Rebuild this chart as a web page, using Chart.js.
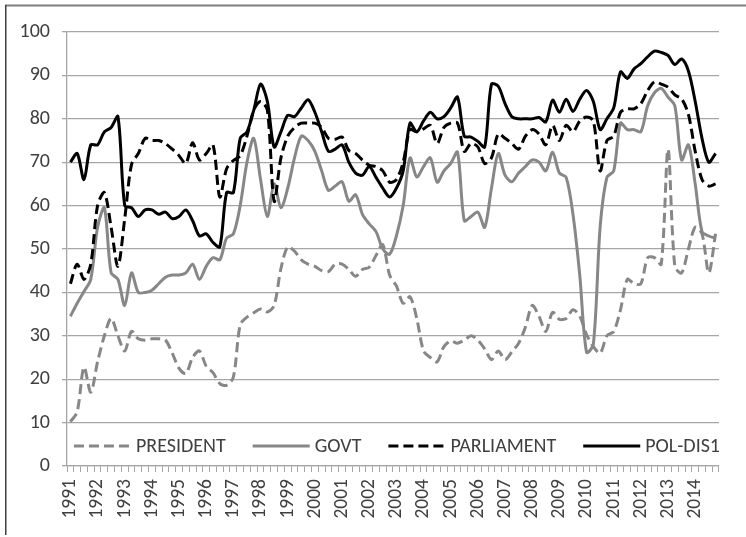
<!DOCTYPE html>
<html><head><meta charset="utf-8">
<script src="https://cdn.jsdelivr.net/npm/chart.js@4.4.1/dist/chart.umd.min.js"></script>
<style>html,body{margin:0;padding:0;background:#fff;}#wrap{width:746px;height:537px;position:relative;}</style>
</head><body><div id="wrap"><canvas id="c" width="746" height="537"></canvas></div>
<script>
const years = ['1991','1992','1993','1994','1995','1996','1997','1998','1999','2000','2001','2002','2003','2004','2005','2006','2007','2008','2009','2010','2011','2012','2013','2014'];
const quarterNames = ['Q1','Q2','Q3','Q4'];
const quarters = [];
years.forEach(y => quarterNames.forEach(q => quarters.push(y + ' ' + q)));

const president = [
  10.2, 12.5, 22.8, 17, 24, 30, 34, 30,
  26.5, 31, 29.3, 29, 29.3, 29.3, 29, 26,
  22.5, 21.3, 25, 26.5, 23, 21.5, 19, 18.6,
  20.5, 32.5, 34.3, 35.3, 36.2, 35.5, 37, 45.5,
  50.5, 49.5, 47.5, 46.5, 46, 45, 44.8, 46.5,
  46.5, 45.3, 43.7, 45.3, 45.8, 48.5, 51, 44,
  41.5, 37.5, 39, 34, 26.5, 25, 24, 27.5,
  28.8, 28.3, 29, 30, 29, 27, 24.5, 26.5,
  24.5, 26.3, 28.3, 32, 37, 34.5, 31, 35.4,
  33.8, 34, 36, 34.5, 30.3, 27.5, 26, 30,
  31, 36, 43, 42, 42, 48, 48, 46.5,
  73, 46, 44.5, 50, 55, 53.5, 44.5, 53.5
];
const govt = [
  34.5, 37.5, 40.2, 43, 55, 59.5, 44.5, 43,
  37, 44.5, 40, 40, 40.5, 42, 43.5, 44,
  44, 44.5, 46.5, 43, 46, 48, 47.5, 52.5,
  53.5, 60, 70, 75.5, 66, 57.5, 65, 59.5,
  64, 71, 76, 75, 72.5, 68, 63.5, 64.5,
  65.5, 61, 62.5, 58, 55.8, 54, 50, 48.8,
  53, 60, 71, 66.6, 69, 71, 65.4, 68,
  69.7, 72.3, 56.5, 57.5, 58.5, 55, 64, 72,
  67, 65.5, 67.5, 69, 70.5, 70, 68, 72.3,
  67.5, 66.5, 58, 44, 26.2, 28, 55, 66.5,
  68, 79, 77.5, 77.5, 77, 83, 86, 87,
  85, 83, 70.5, 74, 65, 54, 53, 52.5
];
const parliament = [
  42, 46.5, 43, 46.5, 60, 63, 55, 46,
  57, 69.5, 72, 75.5, 75, 75, 74.3, 73,
  71.5, 69.7, 74.5, 70.5, 72, 74, 62, 68.5,
  70.4, 71.5, 76, 82, 84, 82, 61, 71,
  76, 78, 79, 79, 79, 78, 75.5, 75.3,
  75.8, 72.7, 72, 70.5, 69.3, 69, 68, 65.4,
  66, 70, 77.5, 77, 77.7, 78.5, 74.3, 78,
  79, 79, 72.5, 74.3, 73.5, 69.7, 71, 76.5,
  75.5, 74.3, 73, 76, 77.5, 76.5, 74, 78.5,
  75, 78.5, 77, 79.5, 80.4, 79.5, 68, 75,
  76, 81.5, 82.3, 82.3, 83.5, 86.5, 88.5, 88,
  87.3, 85.5, 84.6, 81, 72.5, 66, 64.5, 65
];
const polDis1 = [
  70, 72, 66, 74, 74, 77, 78, 80.5,
  60, 59.5, 57.5, 59, 59, 58, 58.5, 57,
  57.5, 59, 56.5, 53, 53.5, 51.5, 50.5, 63,
  63, 75.5, 77, 82, 88, 84, 73.5, 77,
  80.8, 80.5, 82.5, 84.4, 81.5, 77, 72.5, 73,
  74, 70, 67.5, 67, 69, 66.5, 64, 62,
  64, 68, 79, 77, 79.5, 81.5, 80, 80.5,
  82.5, 85, 76, 75.8, 74.8, 73.5, 88, 87.5,
  83.5, 80.5, 80, 80, 80, 80.3, 79.3, 84.3,
  81.5, 84.5, 81.7, 84.5, 86.5, 84, 77.5, 80,
  82.5, 90.8, 89.3, 91.5, 92.7, 94.3, 95.6, 95.3,
  94.6, 92.5, 93.8, 91, 84, 75.5, 70, 72
];
const seriesNames = ['PRESIDENT', 'GOVT', 'PARLIAMENT', 'POL-DIS1'];
const yTicks = [0, 10, 20, 30, 40, 50, 60, 70, 80, 90, 100];

const FONT = "Carlito, Roboto, 'Liberation Sans', sans-serif";
const GRAY = '#878787';
const BLACK = '#000000';

const framePlugin = {
  id: 'frame',
  beforeDraw(chart) {
    const ctx = chart.ctx;
    ctx.save();
    ctx.fillStyle = '#ffffff';
    ctx.fillRect(0, 0, chart.width, chart.height);
    ctx.strokeStyle = '#808080';
    ctx.lineWidth = 2;
    ctx.beginPath();
    ctx.moveTo(5, 5.5); ctx.lineTo(chart.width, 5.5);
    ctx.stroke();
    ctx.strokeStyle = '#404040';
    ctx.lineWidth = 1.5;
    ctx.beginPath();
    ctx.moveTo(5.75, 5); ctx.lineTo(5.75, 535);
    ctx.stroke();
    ctx.restore();
  }
};

const insideLegend = {
  id: 'insideLegend',
  afterDraw(chart, args, opts) {
    const { ctx, chartArea } = chart;
    ctx.save();
    ctx.font = opts.size + 'px ' + FONT;
    const items = chart.data.datasets.map(ds => ({ ds, w: ctx.measureText(ds.label).width }));
    const total = items.reduce((s, it) => s + opts.lineLen + opts.textGap + it.w, 0) + opts.itemGap * (items.length - 1);
    let x = (chartArea.left + chartArea.right) / 2 - total / 2 + opts.shift;
    const y = chartArea.bottom - opts.fromBottom;
    items.forEach(it => {
      ctx.strokeStyle = it.ds.borderColor;
      ctx.lineWidth = it.ds.borderWidth;
      ctx.setLineDash(it.ds.borderDash || []);
      ctx.beginPath();
      ctx.moveTo(x, y);
      ctx.lineTo(x + opts.lineLen, y);
      ctx.stroke();
      ctx.setLineDash([]);
      ctx.fillStyle = opts.color;
      ctx.textBaseline = 'middle';
      ctx.textAlign = 'left';
      ctx.fillText(it.ds.label, x + opts.lineLen + opts.textGap, y + 1);
      x += opts.lineLen + opts.textGap + it.w + opts.itemGap;
    });
    ctx.restore();
  }
};

const mk = (label, data, color, dash, order) => ({
  label, data, borderColor: color, backgroundColor: color, borderWidth: 3,
  borderDash: dash, pointRadius: 0, pointHoverRadius: 0, tension: 0.3,
  fill: false, order, borderCapStyle: 'butt', borderJoinStyle: 'round'
});

new Chart(document.getElementById('c'), {
  type: 'line',
  data: {
    labels: quarters,
    datasets: [
      mk(seriesNames[0], president, GRAY, [10, 5], 3),
      mk(seriesNames[1], govt, GRAY, [], 2),
      mk(seriesNames[2], parliament, BLACK, [10, 5], 1),
      mk(seriesNames[3], polDis1, BLACK, [], 0)
    ]
  },
  options: {
    responsive: false,
    animation: false,
    devicePixelRatio: 1,
    layout: { padding: { left: 6, right: 4, top: 32, bottom: 11 } },
    plugins: {
      legend: { display: false },
      tooltip: { enabled: false },
      insideLegend: { size: 20, lineLen: 57, textGap: 5, itemGap: 27, shift: 4, fromBottom: 20, color: '#404040' }
    },
    scales: {
      x: {
        offset: true,
        ticks: {
          autoSkip: false, maxRotation: 90, minRotation: 90, padding: 7,
          color: '#404040', font: { family: FONT, size: 19.5 },
          callback: (v, i) => (i % 4 === 0 ? years[i / 4] : '')
        },
        grid: { offset: true, drawOnChartArea: false, drawTicks: true, tickLength: 6, color: '#a6a6a6', lineWidth: 1 },
        border: { display: true, color: '#a6a6a6', width: 1.3 },
        afterFit(s) { s.height = 60; }
      },
      y: {
        min: 0, max: 100,
        afterBuildTicks(s) { s.ticks = yTicks.map(v => ({ value: v })); },
        ticks: { color: '#404040', font: { family: FONT, size: 20 }, padding: 12 },
        grid: { color: '#a6a6a6', lineWidth: 1.3, tickLength: 5, drawTicks: true },
        border: { display: true, color: '#a6a6a6', width: 1.3 },
        afterFit(s) { s.width = 61; }
      }
    }
  },
  plugins: [framePlugin, insideLegend]
});
</script>
</body></html>
